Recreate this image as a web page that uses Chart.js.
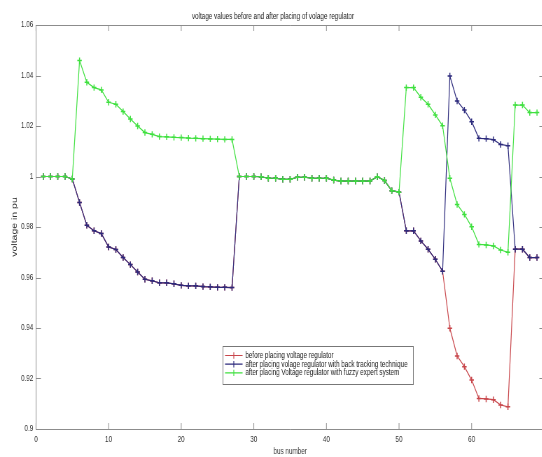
<!DOCTYPE html>
<html>
<head>
<meta charset="utf-8">
<script src="https://cdn.jsdelivr.net/npm/chart.js@4"></script>
<style>
    html, body { margin: 0; padding: 0; background: #fff; overflow: hidden; }
    /* the reference picture is squeezed horizontally, so draw wide and squeeze */
    #wrap { width: 783px; height: 457px; transform: scaleX(0.7); transform-origin: 0 0; }
</style>
</head>
<body>
<div id="wrap"><canvas id="c" width="783" height="457"></canvas></div>
<script>
var busNumbers = [1, 2, 3, 4, 5, 6, 7, 8, 9, 10, 11, 12, 13, 14, 15, 16, 17, 18, 19, 20,
    21, 22, 23, 24, 25, 26, 27, 28, 29, 30, 31, 32, 33, 34, 35, 36, 37, 38, 39, 40,
    41, 42, 43, 44, 45, 46, 47, 48, 49, 50, 51, 52, 53, 54, 55, 56, 57, 58, 59, 60,
    61, 62, 63, 64, 65, 66, 67, 68, 69];

var beforeRegulator = [1.0, 1.0, 1.0, 1.0, 0.999,
    0.9897, 0.9807, 0.9785, 0.9774, 0.9721, 0.9711, 0.9679, 0.9651, 0.9622, 0.9593, 0.9587,
    0.9579, 0.9579, 0.9575, 0.9569, 0.9567, 0.9567, 0.9564, 0.9563, 0.9561, 0.9561, 0.956,
    1.0, 1.0, 1.0, 0.9999, 0.9993, 0.9993, 0.9989, 0.9989, 0.9997, 0.9997, 0.9993, 0.9993,
    0.9993, 0.9986, 0.9982, 0.9982, 0.9982, 0.9982, 0.9982, 0.9999, 0.9984, 0.9944, 0.9938,
    0.9785, 0.9785, 0.9745, 0.9712, 0.9672, 0.9625,
    0.9399, 0.9289, 0.9247, 0.9194, 0.9121, 0.9119, 0.9116, 0.9095, 0.9088,
    0.9712, 0.9712, 0.9679, 0.9679];

var backTracking = [1.0, 1.0, 1.0, 1.0, 0.999,
    0.9897, 0.9807, 0.9785, 0.9774, 0.9721, 0.9711, 0.9679, 0.9651, 0.9622, 0.9593, 0.9587,
    0.9579, 0.9579, 0.9575, 0.9569, 0.9567, 0.9567, 0.9564, 0.9563, 0.9561, 0.9561, 0.956,
    1.0, 1.0, 1.0, 0.9999, 0.9993, 0.9993, 0.9989, 0.9989, 0.9997, 0.9997, 0.9993, 0.9993,
    0.9993, 0.9986, 0.9982, 0.9982, 0.9982, 0.9982, 0.9982, 0.9999, 0.9984, 0.9944, 0.9938,
    0.9785, 0.9785, 0.9745, 0.9712, 0.9672, 0.9625,
    1.0398, 1.0299, 1.0263, 1.0217, 1.0151, 1.015, 1.0146, 1.0127, 1.0122,
    0.9712, 0.9712, 0.9679, 0.9679];

var fuzzyExpert = [1.0, 1.0, 1.0, 1.0, 0.999,
    1.0459, 1.0373, 1.0352, 1.0343, 1.0294, 1.0286, 1.0257, 1.0228, 1.02, 1.0174, 1.0167,
    1.0158, 1.0157, 1.0155, 1.0154, 1.0152, 1.0151, 1.015, 1.0149, 1.0148, 1.0147, 1.0147,
    1.0, 1.0, 1.0, 0.9999, 0.9993, 0.9993, 0.9989, 0.9989, 0.9997, 0.9997, 0.9993, 0.9993,
    0.9993, 0.9986, 0.9982, 0.9982, 0.9982, 0.9982, 0.9982, 0.9999, 0.9984, 0.9944, 0.9938,
    1.0352, 1.0352, 1.0314, 1.0286, 1.0244, 1.0201,
    0.9993, 0.9889, 0.985, 0.9801, 0.9731, 0.9729, 0.9725, 0.9709, 0.97,
    1.0283, 1.0283, 1.0253, 1.0253];

var seriesNames = [
    'before placing voltage regulator',
    'after placing volage regulator with back tracking technique',
    'after placing Voltage regulator with fuzzy expert system'
];
var xTicks = [0, 10, 20, 30, 40, 50, 60, 70];
var yTicks = [0.9, 0.92, 0.94, 0.96, 0.98, 1, 1.02, 1.04, 1.06];

var axisColor = '#8c8c8c';
var textColor = '#333';
var fontFamily = 'Arial, "Liberation Sans", Helvetica, sans-serif';

var toPoints = function (values) {
    return busNumbers.map(function (b, i) {
        return { x: b, y: values[i] };
    });
};

var makeSet = function (label, values, color, order) {
    return {
        label: label,
        data: toPoints(values),
        borderColor: color,
        backgroundColor: color,
        borderWidth: 1.2,
        pointStyle: 'cross',
        pointRadius: 3.2,
        pointBorderWidth: 1.5,
        pointBorderColor: color,
        fill: false,
        tension: 0,
        order: order
    };
};

// inward tick marks, top/right box and the boxed legend inside the plot
var framePlugin = {
    id: 'frame',
    afterDraw: function (chart) {
        var ctx = chart.ctx;
        var a = chart.chartArea;
        var xs = chart.scales.x;
        var ys = chart.scales.y;
        ctx.save();
        ctx.strokeStyle = axisColor;
        ctx.lineWidth = 1;
        ctx.beginPath();
        ctx.moveTo(a.left, a.top + 0.5);
        ctx.lineTo(a.right, a.top + 0.5);
        ctx.moveTo(a.right, a.top);
        ctx.lineTo(a.right, a.bottom);
        xTicks.forEach(function (v) {
            var px = xs.getPixelForValue(v);
            ctx.moveTo(px, a.bottom);
            ctx.lineTo(px, a.bottom - 6);
            ctx.moveTo(px, a.top);
            ctx.lineTo(px, a.top + 6);
        });
        yTicks.forEach(function (v) {
            var py = Math.round(ys.getPixelForValue(v)) + 0.5;
            ctx.moveTo(a.left, py);
            ctx.lineTo(a.left + 7, py);
            ctx.moveTo(a.right, py);
            ctx.lineTo(a.right - 7, py);
        });
        ctx.stroke();

        // legend
        var bx = 318.5, by = 346.5, bw = 272, bh = 38;
        ctx.fillStyle = '#fff';
        ctx.fillRect(bx, by, bw, bh);
        ctx.strokeStyle = '#777';
        ctx.strokeRect(bx, by, bw, bh);
        ctx.font = '9px ' + fontFamily;
        ctx.textBaseline = 'middle';
        var rows = [355.5, 364.2, 372.9];
        chart.data.datasets.forEach(function (ds, i) {
            var y = rows[i];
            ctx.strokeStyle = ds.borderColor;
            ctx.lineWidth = 1.2;
            ctx.beginPath();
            ctx.moveTo(bx + 3, y);
            ctx.lineTo(bx + 28, y);
            ctx.moveTo(bx + 15.5 - 3.2, y);
            ctx.lineTo(bx + 15.5 + 3.2, y);
            ctx.moveTo(bx + 15.5, y - 3.2);
            ctx.lineTo(bx + 15.5, y + 3.2);
            ctx.stroke();
            ctx.fillStyle = '#222';
            ctx.fillText(ds.label, bx + 32, y);
        });
        ctx.restore();
    }
};

new Chart(document.getElementById('c'), {
    type: 'line',
    data: {
        datasets: [
            makeSet(seriesNames[0], beforeRegulator, '#c8464b', 3),
            makeSet(seriesNames[1], backTracking, '#2c2a7c', 2),
            makeSet(seriesNames[2], fuzzyExpert, '#3fe03f', 1)
        ]
    },
    options: {
        responsive: false,
        animation: false,
        devicePixelRatio: 1,
        layout: { padding: { left: 0, right: 3, top: 0, bottom: 0 } },
        plugins: {
            legend: { display: false },
            tooltip: { enabled: false },
            title: {
                display: true,
                text: 'voltage values before and after placing of volage regulator',
                color: '#222',
                font: { family: fontFamily, size: 9, weight: 'normal' },
                padding: { top: 11, bottom: 3.2 }
            }
        },
        scales: {
            x: {
                type: 'linear',
                min: 0,
                max: 70,
                afterFit: function (s) { s.height = 28; },
                afterBuildTicks: function (s) {
                    s.ticks = xTicks.map(function (v) { return { value: v }; });
                },
                ticks: {
                    color: textColor,
                    padding: 5,
                    maxRotation: 0,
                    autoSkip: false,
                    font: { family: fontFamily, size: 9 },
                    callback: function (v) { return v === 70 ? '' : v; }
                },
                grid: { display: false, drawTicks: false },
                border: { display: true, color: axisColor },
                title: {
                    display: true,
                    text: 'bus number',
                    color: textColor,
                    font: { family: fontFamily, size: 9 },
                    padding: { top: 0, bottom: 0 }
                }
            },
            y: {
                min: 0.9,
                max: 1.06,
                afterFit: function (s) { s.width = 51.4; },
                afterBuildTicks: function (s) {
                    s.ticks = yTicks.map(function (v) { return { value: v }; });
                },
                ticks: {
                    color: textColor,
                    padding: 4,
                    font: { family: fontFamily, size: 9 },
                    callback: function (v) { return String(+v.toFixed(2)); }
                },
                grid: { display: false, drawTicks: false },
                border: { display: true, color: axisColor },
                title: {
                    display: true,
                    text: 'voltage in pu',
                    color: textColor,
                    font: { family: fontFamily, size: 10.5 },
                    padding: { top: 15, bottom: 0 }
                }
            }
        }
    },
    plugins: [framePlugin]
});
</script>
</body>
</html>
